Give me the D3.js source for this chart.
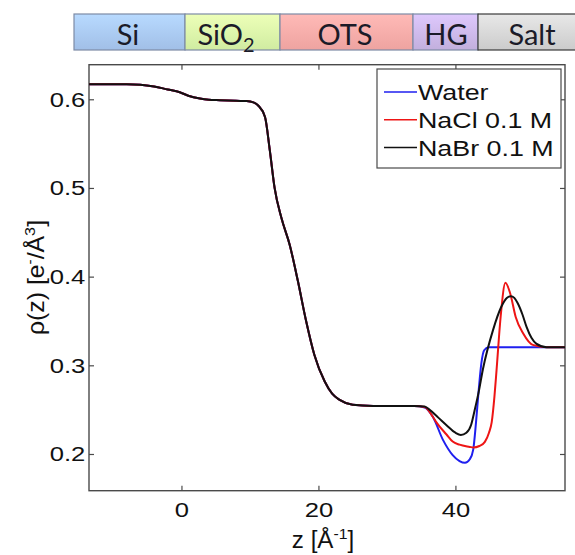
<!DOCTYPE html>
<html>
<head>
<meta charset="utf-8">
<script src="https://cdn.jsdelivr.net/npm/d3@7"></script>
<style>
  html, body { margin: 0; padding: 0; background: #fff; }
  svg { display: block; }
</style>
</head>
<body>
<svg id="chart" width="575" height="555"></svg>
<script>
// profile shared by all three samples (Si / SiO2 / OTS part)
const sharedZ = [-13.5, -8, -6, -4, -2, -0.25, 1, 2.7, 4, 5.6, 8, 9.5, 10.5, 11.2, 12.2, 12.9, 13.6, 14.6, 15.8, 17, 18.2, 19.4, 20.9, 22, 23.1, 25, 28, 34]
const sharedRho = [0.617, 0.617, 0.6165, 0.6145, 0.611, 0.608, 0.604, 0.6008, 0.5995, 0.599, 0.5983, 0.598, 0.5965, 0.593, 0.58, 0.5425, 0.5, 0.466, 0.436, 0.395, 0.35, 0.312, 0.282, 0.268, 0.261, 0.2555, 0.2542, 0.254]

// headgroup / salt region, one tail per sample
const waterZ = [35.5, 36.7, 38.2, 39.6, 40.6, 41.4, 42.1, 42.6, 43.0, 43.4, 43.8, 44.2, 44.8, 56]
const waterRho = [0.2525, 0.242, 0.2156, 0.1987, 0.192, 0.19, 0.194, 0.205, 0.235, 0.272, 0.303, 0.317, 0.3205, 0.3205]

const naclZ = [35.5, 36.7, 37.2, 38.7, 39.6, 40.6, 42.1, 42.6, 43.5, 44.3, 44.9, 45.3, 45.7, 46.0, 46.6, 47.3, 48.0, 48.8, 49.9, 51.3, 53.3, 56]
const naclRho = [0.253, 0.242, 0.236, 0.222, 0.214, 0.2105, 0.208, 0.2073, 0.209, 0.2137, 0.224, 0.236, 0.265, 0.294, 0.3545, 0.393, 0.381, 0.3545, 0.3358, 0.323, 0.3205, 0.3205]

const nabrZ = [35.5, 36.2, 37.5, 38.7, 40.0, 40.8, 41.6, 42.3, 42.8, 43.4, 44.0, 45.5, 46.7, 47.5, 48.1, 48.6, 49.1, 49.8, 50.4, 51.1, 51.8, 53.3, 56]
const nabrRho = [0.2535, 0.25, 0.241, 0.2325, 0.224, 0.2215, 0.224, 0.233, 0.249, 0.27, 0.295, 0.34, 0.366, 0.376, 0.378, 0.376, 0.37, 0.357, 0.343, 0.331, 0.3245, 0.3205, 0.3205]

const seriesNames = ['Water', 'NaCl 0.1 M', 'NaBr 0.1 M']
const seriesColors = ['#1f1fef', '#ee1515', '#111111']

const layerNames = ['Si', 'SiO', 'OTS', 'HG', 'Salt']
const layerColors = ['#a8c7f1', '#d9f6a8', '#f8aaa7', '#cbb7e7', '#d4d4d4']
const layerEdges = [74, 185, 280, 413, 478, 586] // pixel edges of the schematic bar

const yTicks = [0.2, 0.3, 0.4, 0.5, 0.6]
const xTicks = [0, 20, 40]

const width = 575
const height = 555
const margin = { top: 64.7, right: 10, bottom: 64.3, left: 89 }
const stretch = 1.22 // the original picture is stretched horizontally

const svg = d3.select('#chart')

const x = d3.scaleLinear().domain([-13.5, 56]).range([margin.left, width - margin.right])
const y = d3.scaleLinear().domain([0.1586, 0.639]).range([height - margin.bottom, margin.top])

const toPoints = (zs, rs) => zs.map((z, i) => [z, rs[i]])
const series = [
  toPoints(sharedZ.concat(waterZ), sharedRho.concat(waterRho)),
  toPoints(sharedZ.concat(naclZ), sharedRho.concat(naclRho)),
  toPoints(sharedZ.concat(nabrZ), sharedRho.concat(nabrRho)),
]

// layer schematic on top
const defs = svg.append('defs')
layerColors.forEach((c, i) => {
  const g = defs.append('linearGradient').attr('id', 'lg' + i).attr('x1', 0).attr('y1', 0).attr('x2', 0).attr('y2', 1)
  g.append('stop').attr('offset', '0%').attr('stop-color', d3.color(c).brighter(0.25))
  g.append('stop').attr('offset', '100%').attr('stop-color', d3.color(c).darker(0.12))
})

const bar = svg.append('g').attr('id', 'layers')
bar.selectAll('rect')
  .data(layerNames)
  .join('rect')
  .attr('x', (d, i) => layerEdges[i])
  .attr('y', 14)
  .attr('width', (d, i) => layerEdges[i + 1] - layerEdges[i])
  .attr('height', 36)
  .attr('fill', (d, i) => `url(#lg${i})`)
  .attr('stroke', (d, i) => (i === 4 ? '#3a3a3a' : '#7d8ba6'))
  .attr('stroke-width', 1.2)

const barLabels = bar.selectAll('text')
  .data(layerNames)
  .join('text')
  .attr('x', (d, i) => [128, 226, 345, 446, 532][i])
  .attr('y', 44.5)
  .attr('text-anchor', 'middle')
  .style('font-family', 'Lato, "Open Sans", sans-serif')
  .style('font-size', '29px')
  .attr('fill', '#1b1b28')
  .text((d) => d)
barLabels.filter((d) => d === 'SiO')
  .append('tspan')
  .attr('dy', 7)
  .style('font-size', '20px')
  .text('2')

// plot frame
svg.append('rect')
  .attr('x', margin.left)
  .attr('y', margin.top)
  .attr('width', width - margin.left - margin.right)
  .attr('height', height - margin.top - margin.bottom)
  .attr('fill', '#fff')
  .attr('stroke', '#4a4a4a')
  .attr('stroke-width', 1.4)

const tickFont = (sel) => sel
  .style('font-family', '"Liberation Sans", Arial, sans-serif')
  .style('font-size', '21px')
  .attr('fill', '#111')

const axLeft = svg.append('g')
  .attr('transform', `translate(${margin.left},0)`)
  .call(d3.axisLeft(y).tickValues(yTicks).tickSize(-5).tickPadding(3).tickFormat(d3.format('.1f')))
axLeft.selectAll('text').call(tickFont).attr('transform', `scale(${stretch},1)`)

const axBottom = svg.append('g')
  .attr('transform', `translate(0,${height - margin.bottom})`)
  .call(d3.axisBottom(x).tickValues(xTicks).tickSize(-5).tickPadding(11))
axBottom.selectAll('text').call(tickFont).attr('transform', `scale(${stretch},1)`)

svg.append('g')
  .attr('transform', `translate(0,${margin.top})`)
  .call(d3.axisTop(x).tickValues(xTicks).tickSize(-5).tickFormat(''))
svg.append('g')
  .attr('transform', `translate(${width - margin.right},0)`)
  .call(d3.axisRight(y).tickValues(yTicks).tickSize(-5).tickFormat(''))

svg.selectAll('.domain').remove()
svg.selectAll('.tick line').attr('stroke', '#4a4a4a').attr('stroke-width', 1.2)

// curves
const line = d3.line().x((d) => x(d[0])).y((d) => y(d[1])).curve(d3.curveMonotoneX)
svg.append('g')
  .attr('id', 'curves')
  .selectAll('path')
  .data(series)
  .join('path')
  .attr('d', line)
  .attr('fill', 'none')
  .attr('stroke', (d, i) => seriesColors[i])
  .attr('stroke-width', 2)

// legend
const legendG = svg.append('g').attr('id', 'legend')
legendG.append('rect')
  .attr('x', 377)
  .attr('y', 69)
  .attr('width', 184)
  .attr('height', 99)
  .attr('fill', '#fff')
  .attr('stroke', '#4a4a4a')
  .attr('stroke-width', 1.2)

const items = legendG.selectAll('g.item')
  .data(seriesNames)
  .join('g')
  .attr('class', 'item')
  .attr('transform', (d, i) => `translate(384,${92 + i * 27.8})`)
items.append('line')
  .attr('x1', 0).attr('x2', 33)
  .attr('stroke', (d, i) => seriesColors[i])
  .attr('stroke-width', 1.5)
items.append('text')
  .attr('transform', `translate(34,8) scale(${stretch},1)`)
  .style('font-family', '"Liberation Sans", Arial, sans-serif')
  .style('font-size', '22px')
  .attr('fill', '#111')
  .text((d) => d)

// axis titles
const yTitle = svg.append('text')
  .attr('transform', `translate(43.5,277.5) rotate(-90) scale(1.08,1)`)
  .attr('text-anchor', 'middle')
  .style('font-family', '"Liberation Sans", Arial, sans-serif')
  .style('font-size', '23px')
  .attr('fill', '#111')
yTitle.append('tspan').text('ρ(z) [e')
yTitle.append('tspan').attr('dy', -9).style('font-size', '14px').text('-')
yTitle.append('tspan').attr('dy', 9).text('/Å')
yTitle.append('tspan').attr('dy', -9).style('font-size', '15px').text('3')
yTitle.append('tspan').attr('dy', 9).text(']')

const xTitle = svg.append('text')
  .attr('transform', `translate(323,548) scale(1.05,1)`)
  .attr('text-anchor', 'middle')
  .style('font-family', '"Liberation Sans", Arial, sans-serif')
  .style('font-size', '23px')
  .attr('fill', '#111')
xTitle.append('tspan').text('z [Å')
xTitle.append('tspan').attr('dy', -9).style('font-size', '15px').text('-1')
xTitle.append('tspan').attr('dy', 9).text(']')
</script>
</body>
</html>
